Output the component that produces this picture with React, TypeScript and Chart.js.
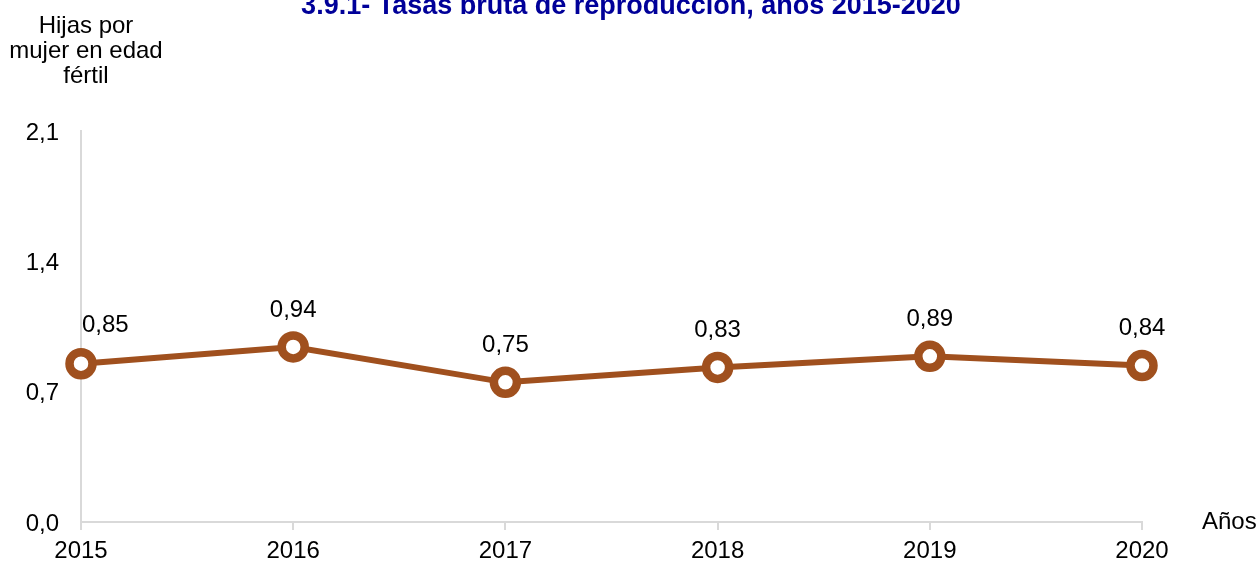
import React, { useEffect, useRef } from "react";
import { Chart, registerables } from "chart.js";

Chart.register(...registerables);

const years = ["2015", "2016", "2017", "2018", "2019", "2020"];
const values = [0.85, 0.94, 0.75, 0.83, 0.89, 0.84];
const yTicks = [0, 0.7, 1.4, 2.1];
const titleText = "3.9.1- Tasas bruta de reproducción, años 2015-2020";
const yTitleLines = ["Hijas por", "mujer en edad", "fértil"];
const xTitle = "Años";

const FONT = '"Liberation Sans", Arial, sans-serif';
const BROWN = "#A0501E";
const AXIS = "#D9D9D9";

const fmt = (v: number, d: number) => v.toFixed(d).replace(".", ",");

const textPlugin = {
  id: "textPlugin",
  afterDatasetsDraw(chart: any) {
    const ctx = chart.ctx;
    ctx.save();
    // title
    ctx.fillStyle = "#000099";
    ctx.font = `bold 27px ${FONT}`;
    ctx.textAlign = "center";
    ctx.textBaseline = "alphabetic";
    ctx.fillText(titleText, 631, 14);
    // y title
    ctx.fillStyle = "#000";
    ctx.font = `24px ${FONT}`;
    yTitleLines.forEach((l, i) => ctx.fillText(l, 86, 33 + i * 25));
    // x title
    ctx.textAlign = "left";
    ctx.fillText(xTitle, 1202, 529);
    // data labels
    const meta = chart.getDatasetMeta(0);
    meta.data.forEach((pt: any, i: number) => {
      const txt = fmt(values[i], 2);
      ctx.textBaseline = "middle";
      if (i === 0) {
        ctx.textAlign = "left";
        ctx.fillText(txt, pt.x + 1, pt.y - 38);
      } else {
        ctx.textAlign = "center";
        ctx.fillText(txt, pt.x, pt.y - 37);
      }
    });
    ctx.restore();
  },
};

export default function App() {
  const ref = useRef<HTMLCanvasElement | null>(null);
  useEffect(() => {
    if (!ref.current) return;
    const chart = new Chart(ref.current, {
      type: "line",
      data: {
        labels: years,
        datasets: [
          {
            data: values,
            borderColor: BROWN,
            borderWidth: 6,
            backgroundColor: "#fff",
            pointBackgroundColor: "#fff",
            pointBorderColor: BROWN,
            pointBorderWidth: 8.5,
            pointRadius: 11.5,
            pointHoverRadius: 11.5,
            tension: 0,
          },
        ],
      },
      options: {
        responsive: false,
        maintainAspectRatio: false,
        animation: false,
        layout: { padding: { top: 131, right: 118, left: 0, bottom: 0 } },
        plugins: {
          legend: { display: false },
          tooltip: { enabled: false },
          title: { display: false },
        },
        scales: {
          x: {
            offset: false,
            grid: {
              drawOnChartArea: false,
              drawTicks: true,
              tickLength: 8,
              color: AXIS,
              lineWidth: 2,
            },
            border: { display: true, color: AXIS, width: 2 },
            ticks: {
              color: "#000",
              font: { family: FONT, size: 24 },
              padding: 7,
              maxRotation: 0,
              autoSkip: false,
            },
            afterFit: (s: any) => {
              s.height = 43;
            },
          },
          y: {
            min: 0,
            max: 2.1,
            afterBuildTicks: (s: any) => {
              s.ticks = yTicks.map((v) => ({ value: v }));
            },
            grid: { display: false, drawTicks: false },
            border: { display: true, color: AXIS, width: 2 },
            ticks: {
              color: "#000",
              font: { family: FONT, size: 24 },
              padding: 22,
              labelOffset: 2,
              callback: (v: any) => fmt(Number(v), 1),
            },
            afterFit: (s: any) => {
              s.width = 81;
            },
          },
        },
      },
      plugins: [textPlugin],
    });
    return () => chart.destroy();
  }, []);
  return (
    <div style={{ position: "absolute", left: 0, top: 0, width: 1260, height: 565, background: "#fff" }}>
      <canvas ref={ref} width={1260} height={565} />
    </div>
  );
}
